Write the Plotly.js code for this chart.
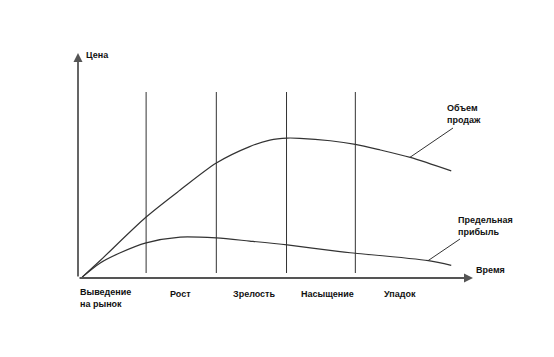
<!DOCTYPE html>
<html><head><meta charset="utf-8">
<script src="https://cdn.plot.ly/plotly-3.0.1.min.js"></script>
<style>body{margin:0;background:#fff}</style>
</head><body><div id="chart" style="width:554px;height:357px"></div>
<script>
// Time (stage units) and values
const salesT = [0.06, 0.32, 0.98, 1.47, 1.99, 2.47, 2.76, 3.01, 3.19, 3.63, 3.99, 4.35, 4.78, 5.37];
const salesV = [0.4, 7.8, 27.1, 39.1, 51.1, 58.4, 61.3, 62.2, 62.1, 61.0, 59.4, 56.9, 53.6, 47.6];
const profitT = [0.06, 0.32, 0.60, 0.98, 1.47, 1.99, 2.47, 3.01, 3.77, 3.99, 5.04, 5.37];
const profitV = [0.4, 6.7, 11.1, 15.6, 18.2, 17.8, 16.4, 14.7, 11.7, 11.0, 7.7, 5.6];
const stageBounds = [0.98, 1.99, 3.0, 3.99];
const stageLabels = ["Выведение<br>на рынок", "Рост", "Зрелость", "Насыщение", "Упадок"];
const yTitle = "Цена";
const xTitle = "Время";
const salesName = "Объем<br>продаж";
const profitName = "Предельная<br>прибыль";

const W = 554, H = 357, L = 78, R = 81, T = 53, B = 79;
const XMAX = 5.683, YMAX = 100;
const PW = W - L - R, PH = H - T - B;
const px2x = p => (p - L) / PW * XMAX;
const py2y = p => (H - B - p) / PH * YMAX;
const px2p = p => (p - L) / PW;
const py2p = p => (H - B - p) / PH;

const lineC = '#333';
const font = {family: 'Arial, "Liberation Sans", sans-serif', size: 9, color: '#111', weight: 'bold'};

const traces = [
  {x: salesT, y: salesV, mode: 'lines', line: {color: lineC, width: 1.2, shape: 'spline', smoothing: 0.8}, hoverinfo: 'skip'},
  {x: profitT, y: profitV, mode: 'lines', line: {color: lineC, width: 1.2, shape: 'spline', smoothing: 0.8}, hoverinfo: 'skip'}
];

const shapes = stageBounds.map(s => ({type: 'line', x0: s, x1: s, y0: py2y(273), y1: py2y(92), line: {color: lineC, width: 1}}));
shapes.push({type: 'line', x0: px2x(453), y0: py2y(128), x1: px2x(410), y1: py2y(157.3), line: {color: lineC, width: 1}});
shapes.push({type: 'line', x0: px2x(460), y0: py2y(239), x1: px2x(428), y1: py2y(260.7), line: {color: lineC, width: 1}});

const ann = (px, py, text, yoff) => ({xref: 'paper', yref: 'paper', x: px2p(px), y: py2p(py), text: text, showarrow: false,
  xanchor: 'left', yanchor: 'middle', align: 'left', font: font});

const annotations = [
  // axes drawn as arrows
  {x: 0, y: YMAX, ax: 0, ay: 0, axref: 'x', ayref: 'y', xref: 'x', yref: 'y', text: '', showarrow: true, arrowhead: 2, arrowsize: 1, arrowwidth: 1.8, arrowcolor: '#555'},
  {x: XMAX, y: 0, ax: 0, ay: 0, axref: 'x', ayref: 'y', xref: 'x', yref: 'y', text: '', showarrow: true, arrowhead: 2, arrowsize: 1, arrowwidth: 1.8, arrowcolor: '#555'},
  ann(84, 55, yTitle),
  ann(474, 270, xTitle),
  ann(445, 113.5, salesName),
  ann(456, 226, profitName)
];
const labelX = [78, 168, 231, 299, 382];
stageLabels.forEach((t, i) => annotations.push(ann(labelX[i], i === 0 ? 298 : 294, t)));

const layout = {
  width: W, height: H,
  margin: {l: L, r: R, t: T, b: B, pad: 0},
  paper_bgcolor: '#fff', plot_bgcolor: '#fff',
  showlegend: false,
  xaxis: {range: [0, XMAX], visible: false, fixedrange: true},
  yaxis: {range: [0, YMAX], visible: false, fixedrange: true},
  shapes: shapes,
  annotations: annotations
};
Plotly.newPlot('chart', traces, layout, {staticPlot: true, displayModeBar: false});
</script></body></html>
